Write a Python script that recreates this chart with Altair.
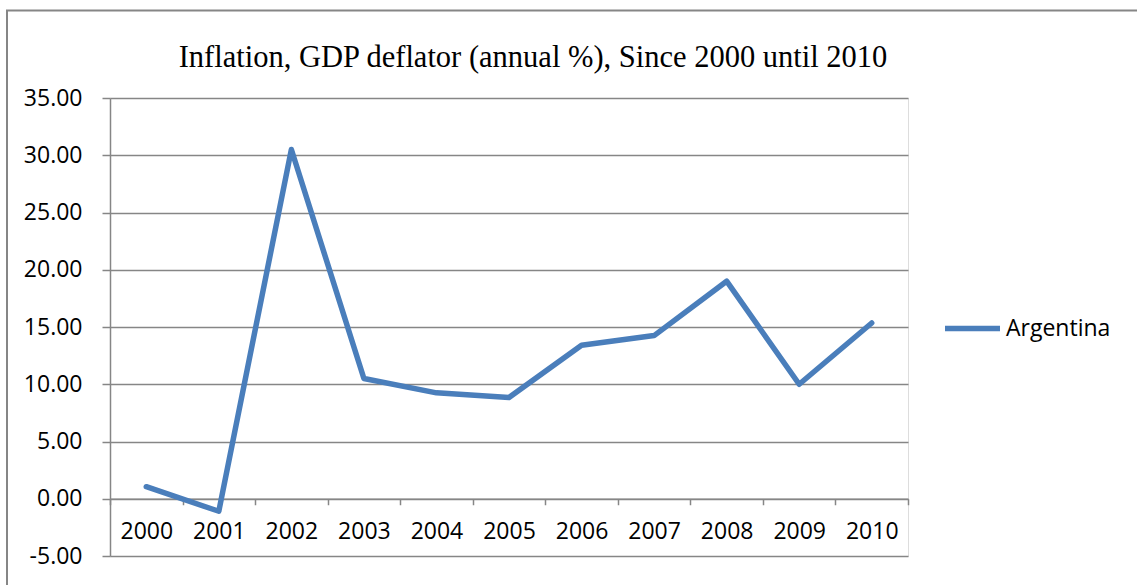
import altair as alt
import pandas as pd

years = [2000, 2001, 2002, 2003, 2004, 2005, 2006, 2007, 2008, 2009, 2010]
inflation = [1.05, -1.09, 30.5, 10.5, 9.25, 8.85, 13.4, 14.25, 19.0, 10.0, 15.35]
country = "Argentina"
title_text = "Inflation, GDP deflator (annual %), Since 2000 until 2010"
y_ticks = [-5, 0, 5, 10, 15, 20, 25, 30, 35]

df = pd.DataFrame({"year": years, "value": inflation, "country": [country] * len(years)})

W, H = 798, 458
GRAY = "#868686"
BLUE = "#4a7ebb"
LABEL_FONT = "Open Sans"
FS = 23

y0_offset = -(H * (0 - (-5)) / 40)

border = alt.Chart(alt.Data(values=[{}])).mark_rect(
    fill=None, stroke=GRAY, strokeWidth=2, clip=False
).encode(
    x=alt.value(-103), x2=alt.value(1040),
    y=alt.value(-87.5), y2=alt.value(520),
)

title = alt.Chart(alt.Data(values=[{"t": title_text}])).mark_text(
    font="Liberation Serif", fontSize=30.5, color="black", align="center",
    baseline="alphabetic", clip=False
).encode(text="t:N", x=alt.value(423), y=alt.value(-31))

line = alt.Chart(df).mark_line(
    strokeWidth=5.5, strokeJoin="round", strokeCap="round"
).encode(
    x=alt.X("year:O", bandPosition=0.5,
            scale=alt.Scale(type="band", paddingInner=0, paddingOuter=0),
            axis=alt.Axis(title=None, grid=False, labelAngle=0, tickBand="extent",
                          offset=y0_offset,
                          tickSize=6, tickColor=GRAY, tickWidth=1.5,
                          domainColor=GRAY, domainWidth=1.5,
                          labelFont=LABEL_FONT, labelFontSize=FS, labelColor="black",
                          labelBaseline="middle", labelPadding=27,
                          labelOverlap=False)),
    y=alt.Y("value:Q",
            scale=alt.Scale(domain=[-5, 35], nice=False, zero=False),
            axis=alt.Axis(values=y_ticks, title=None,
                          labelExpr="datum.value < 0 ? '-' + format(-datum.value, '.2f') : format(datum.value, '.2f')",
                          grid=True, gridColor=GRAY, gridWidth=1.5,
                          tickSize=8, tickColor=GRAY, tickWidth=1.5,
                          domainColor=GRAY, domainWidth=1.5,
                          labelFont=LABEL_FONT, labelFontSize=FS, labelColor="black",
                          labelPadding=20, labelFlush=False, labelOverlap=False)),
    color=alt.Color("country:N", scale=alt.Scale(range=[BLUE]),
                    legend=alt.Legend(title=None, orient="none", legendX=832, legendY=200,
                                      symbolType="stroke", symbolSize=3025,
                                      symbolStrokeWidth=5.5, symbolStrokeColor=BLUE,
                                      labelFont=LABEL_FONT, labelFontSize=FS,
                                      labelColor="black", labelOffset=3, padding=0)),
)

chart = alt.layer(border, title, line).properties(
    width=W, height=H,
    autosize=alt.AutoSizeParams(type="none"),
    padding={"left": 110, "top": 98, "right": 229, "bottom": 29},
).configure_view(stroke=None).configure(background="white")

chart.save("out.html", embed_options={"renderer": "svg", "actions": False})
